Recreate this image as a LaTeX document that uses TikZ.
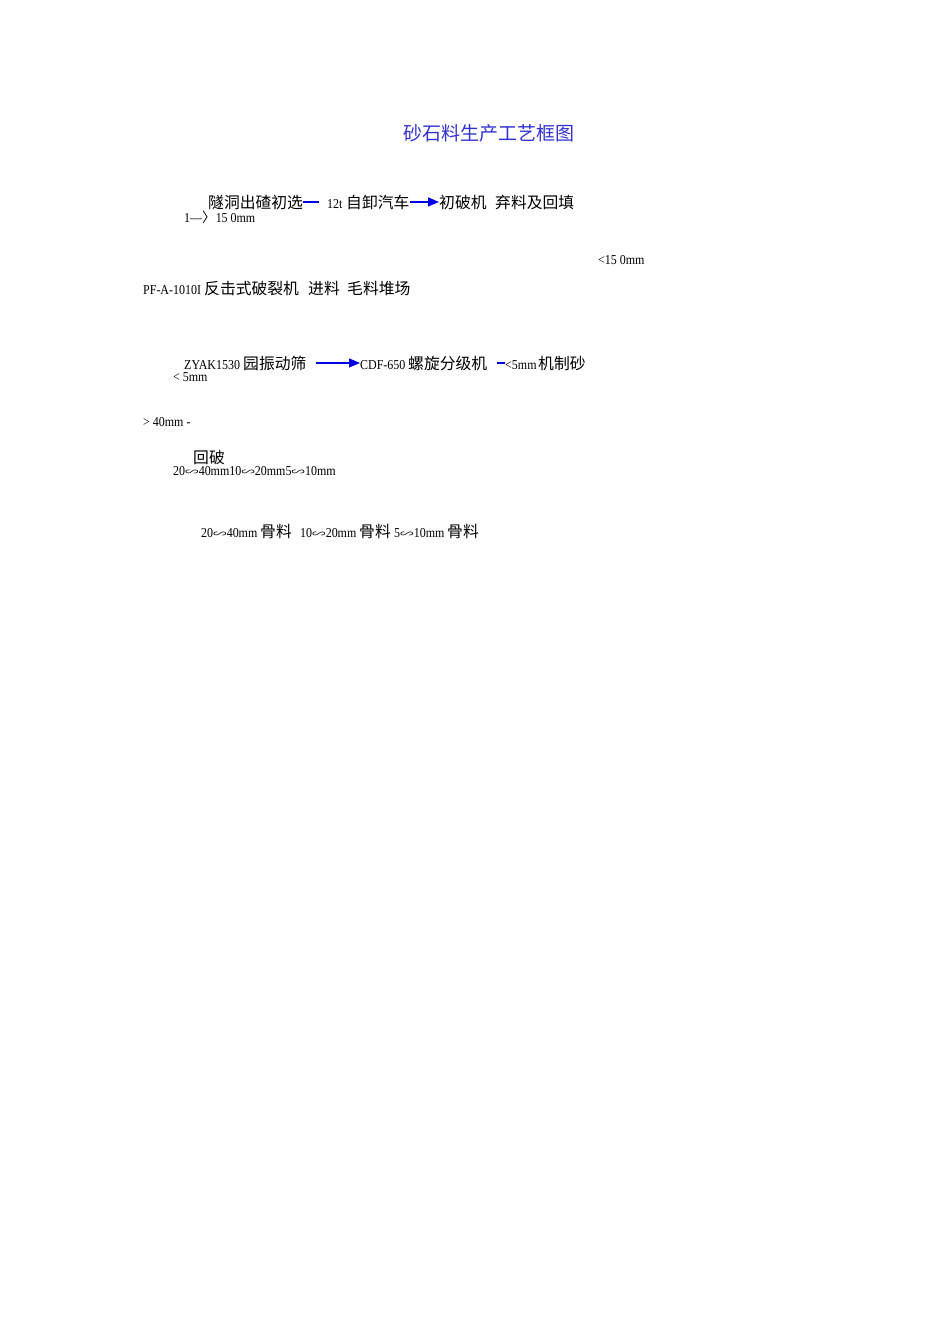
\documentclass[tikz,border=0pt]{standalone}
\usepackage{graphicx}
\usepackage{fontspec}
\setmainfont{Liberation Serif}[FakeStretch=0.88]
\newfontfamily\cjk{Noto Sans CJK SC}
\usetikzlibrary{arrows.meta,calc}
\definecolor{titleblue}{RGB}{50,50,210}
\definecolor{flowblue}{RGB}{0,0,230}
\newcommand{\wv}{{\cjk\scalebox{1}[0.7]{∽}}}
\begin{document}
\begin{tikzpicture}[x=1pt,y=-1pt,
  cn/.style={anchor=base west, inner sep=0pt, font=\cjk\fontsize{15.8}{16}\selectfont},
  lat/.style={anchor=base west, inner sep=0pt, font=\fontsize{13.6}{14}\selectfont},
  ttl/.style={anchor=base west, inner sep=0pt, text=titleblue, font=\cjk\fontsize{19}{20}\selectfont},
  flow/.style={draw=flowblue, line width=1.4pt},
  flowarrow/.style={flow, -{Triangle[length=11pt,width=9pt,fill=flowblue]}}]
\useasboundingbox (0,0) rectangle (950,1344);
\fill[white] (0,0) rectangle (950,1344);
% title
\node[ttl] (title) at (403,140) {砂石料生产工艺框图};
% row 1
\node[cn] (sel) at (208,208) {隧洞出碴初选};
\node[lat] (t12) at (327,208) {12t};
\node[cn] (truck) at (346,208) {自卸汽车};
\node[cn] (prim) at (439,208) {初破机};
\node[cn] (waste) at (495,208) {弃料及回填};
\node[lat] (gt150) at (184,222) {1—{\cjk 〉}15 0mm};
\draw[flow, line width=1.1pt, shorten >=8pt] (sel.east) -- (sel.east -| t12.west);
\draw[flowarrow] (truck.east) -- (truck.east -| prim.west);
% row 2
\node[lat] (lt150) at (598,264) {<15 0mm};
\node[lat] (pf) at (143,294) {PF-A-1010I};
\node[cn] (impact) at (204,294) {反击式破裂机};
\node[cn] (feed) at (308,294) {进料};
\node[cn] (yard) at (347,294) {毛料堆场};
% row 3
\node[lat] (zyak) at (184,369) {ZYAK1530};
\node[cn] (screen) at (243,369) {园振动筛};
\node[lat] (cdf) at (360,369) {CDF-650};
\node[cn] (class) at (408,369) {螺旋分级机};
\node[lat] (lt5b) at (505,369) {<5mm};
\node[cn] (sand) at (538,369) {机制砂};
\node[lat] (lt5) at (173,381) {< 5mm};
\draw[flowarrow, line width=1.1pt, shorten <=9pt] (screen.east) -- (screen.east -| cdf.west);
\draw[flow, line width=1.1pt, shorten <=10pt] (class.east) -- (class.east -| lt5b.west);
% rows 4-6
\node[lat] (gt40) at (143,426) {> 40mm -};
\node[cn] (back) at (193,463) {回破};
\node[lat] (sizes) at (173,475) {20\wv40mm10\wv20mm5\wv10mm};
\node[lat] (s1) at (201,537) {20\wv40mm};
\node[cn] (a1) at (260,537) {骨料};
\node[lat] (s2) at (300,537) {10\wv20mm};
\node[cn] (a2) at (359,537) {骨料};
\node[lat] (s3) at (394,537) {5\wv10mm};
\node[cn] (a3) at (447,537) {骨料};
\end{tikzpicture}
\end{document}
